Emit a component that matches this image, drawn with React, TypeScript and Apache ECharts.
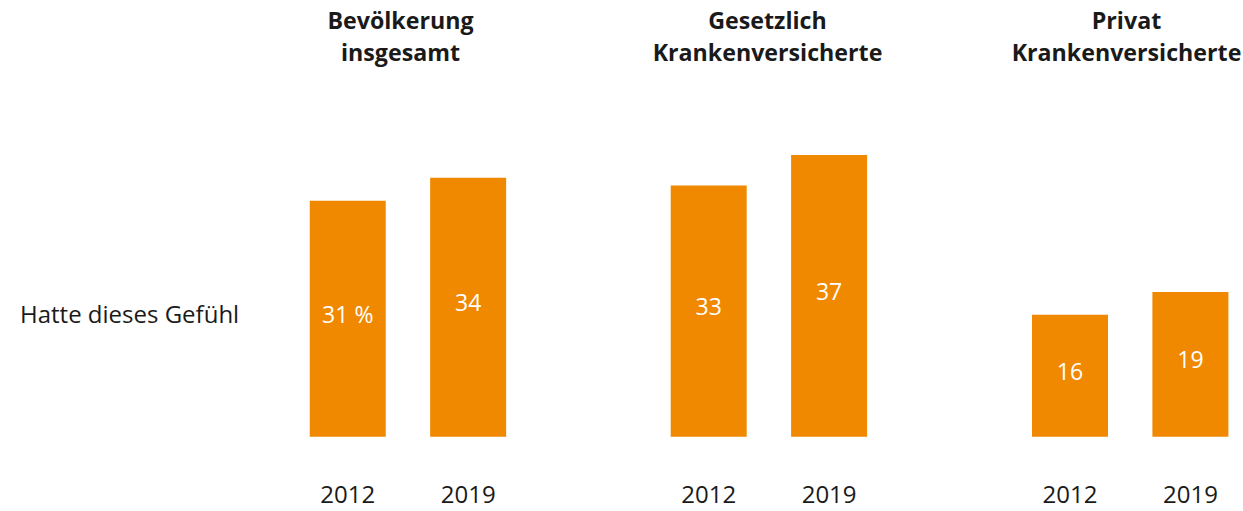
import React, { useEffect, useRef } from "react";
import * as echarts from "echarts";

const years = ["2012", "2019"];
const groups = ["Bevölkerung\ninsgesamt", "Gesetzlich\nKrankenversicherte", "Privat\nKrankenversicherte"];
const values2012 = [31, 33, 16];
const values2019 = [34, 37, 19];
const rowLabel = "Hatte dieses Gefühl";

const ORANGE = "#F08900";
const FONT = "'Open Sans', 'Noto Sans', sans-serif";
const TEXT = "#1a1a1a";

export default function App() {
  const ref = useRef<HTMLDivElement>(null);
  useEffect(() => {
    if (!ref.current) return;
    const chart = echarts.init(ref.current, undefined, { renderer: "svg" });
    const gridLefts = [347.75, 708.7, 1070];
    const titleCenters = [400.5, 767.5, 1126.5];
    const gridWidth = 120.4;
    const grids = gridLefts.map((l) => ({ left: l, width: gridWidth, top: 132.1, bottom: 74.3 }));
    const xAxes = grids.map((_, i) => ({
      type: "category" as const,
      gridIndex: i,
      data: years,
      boundaryGap: false,
      axisLine: { show: false },
      axisTick: { show: false },
      axisLabel: { fontSize: 24, lineHeight: 18, color: TEXT, fontFamily: FONT, margin: 48 },
    }));
    const yAxes = grids.map((_, i) => ({
      type: "value" as const,
      gridIndex: i,
      min: 0,
      max: 40,
      show: false,
    }));
    const series = groups.map((_, i) => ({
      type: "bar" as const,
      xAxisIndex: i,
      yAxisIndex: i,
      barWidth: 76,
      clip: false,
      itemStyle: { color: ORANGE },
      label: {
        show: true,
        position: "inside" as const,
        offset: [0, -5],
        color: "#ffffff",
        fontSize: 23,
        fontFamily: FONT,
        formatter: (p: any) => (i === 0 && p.dataIndex === 0 ? `${p.value} %` : `${p.value}`),
      },
      data: [values2012[i], values2019[i]],
    }));
    const titles: any[] = groups.map((g, i) => ({
      text: g,
      left: titleCenters[i],
      top: 4,
      padding: 0,
      textAlign: "center",
      textStyle: { fontSize: 23.2, fontWeight: "bold", color: TEXT, fontFamily: FONT, lineHeight: 32 },
    }));
    titles.push({
      text: rowLabel,
      left: 15,
      top: 296,
      textStyle: { fontSize: 24, fontWeight: "normal", color: TEXT, fontFamily: FONT },
    });
    chart.setOption({
      animation: false,
      title: titles,
      grid: grids,
      xAxis: xAxes,
      yAxis: yAxes,
      series,
    });
    return () => chart.dispose();
  }, []);
  return (
    <div
      ref={ref}
      style={{ position: "absolute", left: 0, top: 0, width: 1243, height: 511 }}
    />
  );
}
